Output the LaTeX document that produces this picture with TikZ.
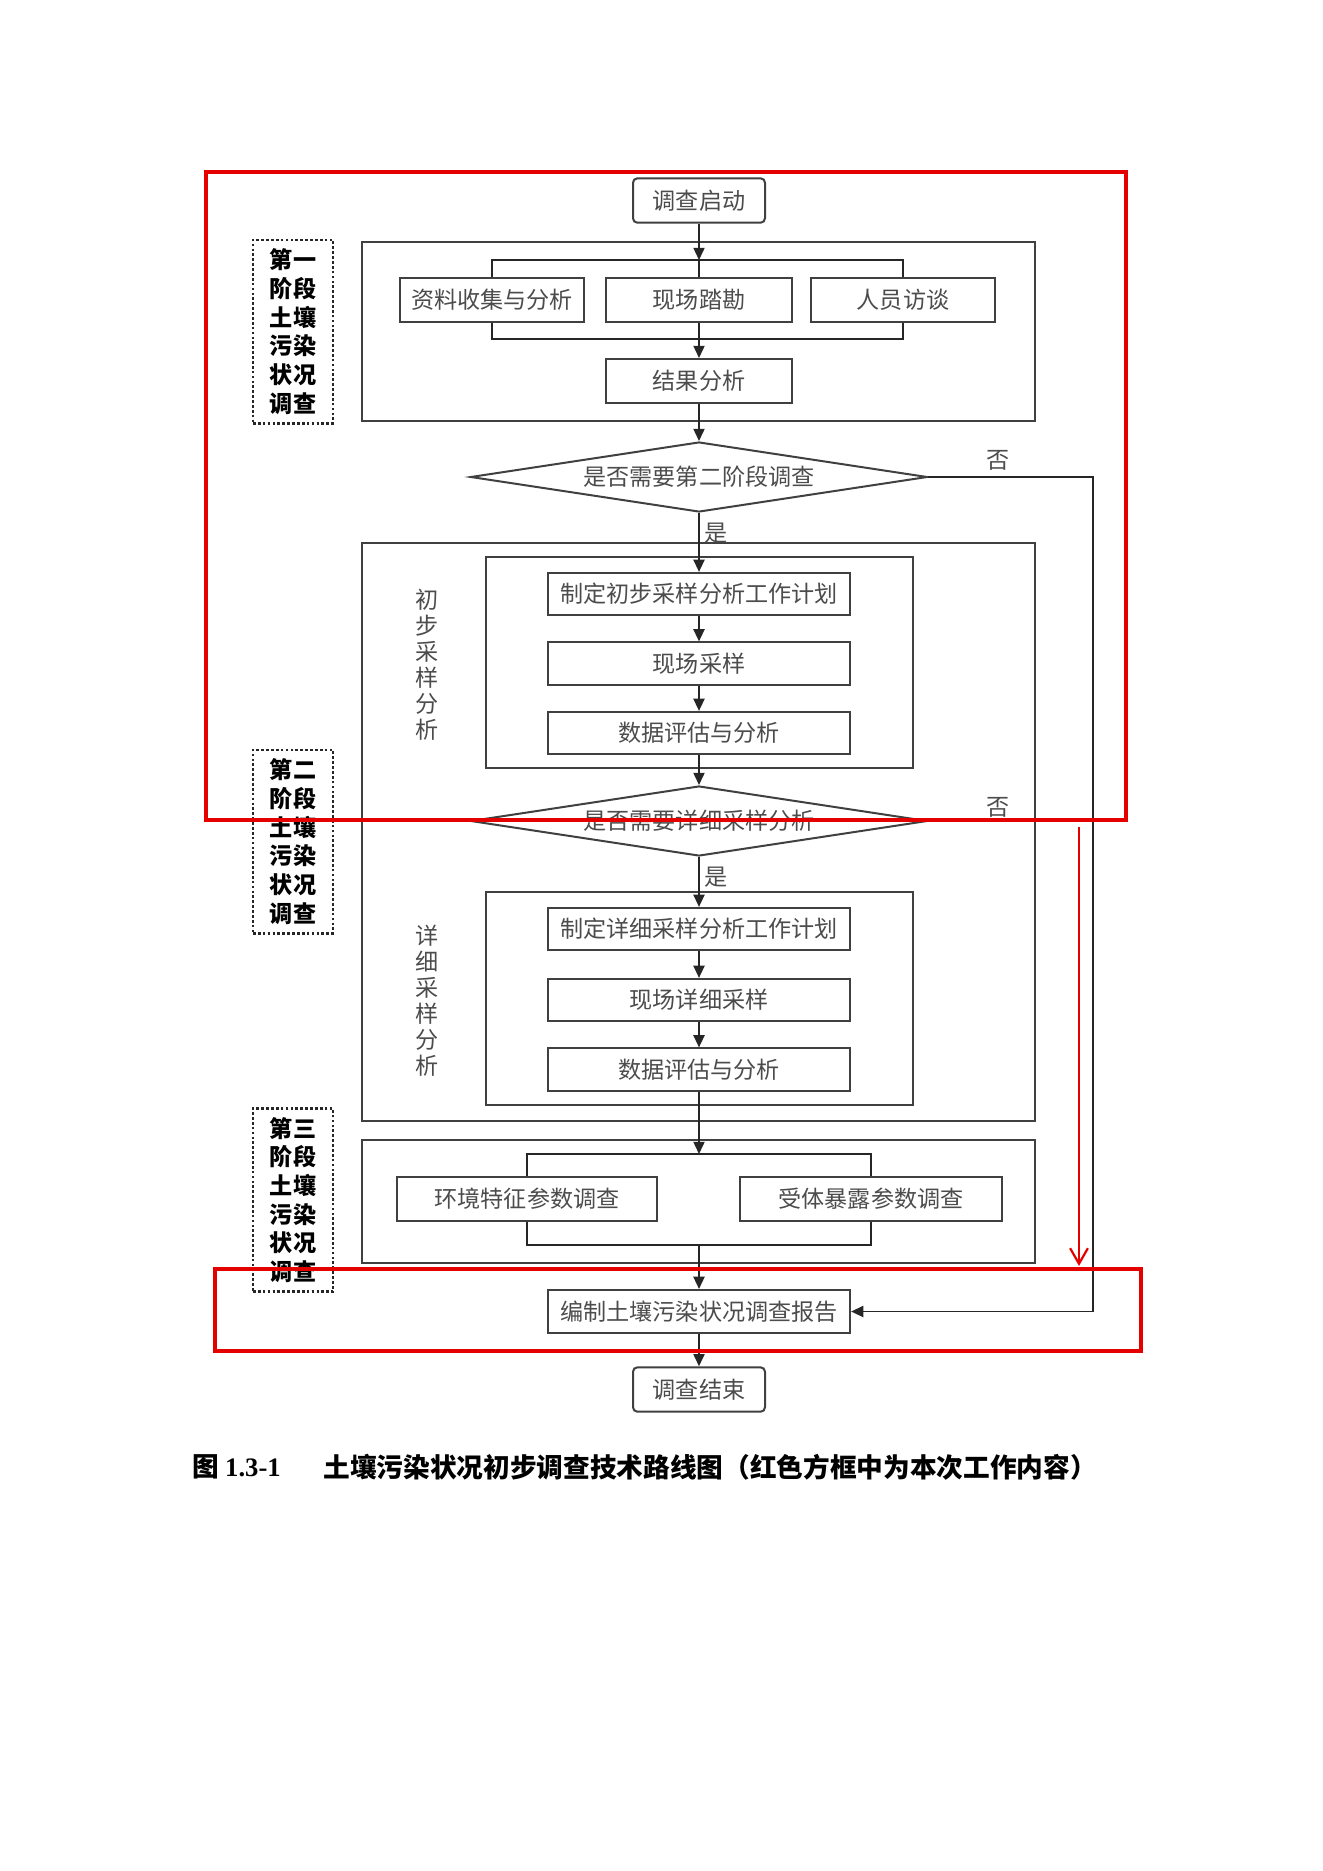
\documentclass[tikz,border=0pt]{standalone}
\usepackage{fontspec}
\newfontfamily\cjk{Noto Sans CJK SC}
\newfontfamily\latinb{Liberation Serif}
\usetikzlibrary{shapes.geometric}
\usetikzlibrary{arrows.meta}

\begin{document}
\begin{tikzpicture}[x=0.45pt, y=-0.45pt,
    box/.style={rectangle, draw=black!75, line width=0.9pt, fill=white, inner sep=0pt,
        minimum width=136pt, minimum height=19pt, text=black!70,
        font=\cjk\fontsize{10.4}{12}\selectfont},
    endbox/.style={box, rounded corners=2pt, minimum width=59.4pt, minimum height=20pt},
    decide/.style={diamond, draw=black!75, line width=0.9pt, aspect=6.6, inner sep=0pt,
        minimum width=205.6pt, minimum height=31.5pt, text=black!70,
        font=\cjk\fontsize{10.4}{12}\selectfont},
    frame/.style={draw=black!75, line width=0.9pt},
    stagebox/.style={draw=black!85, line width=1.2pt, densely dotted, inner sep=0pt,
        minimum width=36pt, minimum height=82.5pt, align=center,
        font=\cjk\bfseries\fontsize{10.4}{12.9}\selectfont},
    vlabel/.style={align=center, text=black!70, font=\cjk\fontsize{10.4}{11.7}\selectfont},
    tag/.style={text=black!70, font=\cjk\fontsize{10.4}{12}\selectfont},
    arr/.style={-{Triangle[length=5.5pt,width=5pt]}, line width=0.8pt, black!85},
    line/.style={line width=0.8pt, black!85},
    redframe/.style={draw=red!90!black, line width=1.4pt}]

    \useasboundingbox (0,0) rectangle (1323,1871);

    % stage frames
    \draw[frame] (362,242) rectangle (1035,421);
    \draw[frame] (362,543) rectangle (1035,1121);
    \draw[frame] (486,557) rectangle (913,768);
    \draw[frame] (486,892) rectangle (913,1105);
    \draw[frame] (362,1140) rectangle (1035,1263);

    \node[stagebox] (s1) at (293,331.5) {第一\\阶段\\土壤\\污染\\状况\\调查};
    \node[stagebox] (s2) at (293,841.5) {第二\\阶段\\土壤\\污染\\状况\\调查};
    \node[stagebox] (s3) at (293,1200) {第三\\阶段\\土壤\\污染\\状况\\调查};

    \node[vlabel] (v1) at (427,665) {初\\步\\采\\样\\分\\析};
    \node[vlabel] (v2) at (427,1001) {详\\细\\采\\样\\分\\析};

    % first stage
    \node[endbox] (start) at (699,200.5) {调查启动};
    \node[box, minimum width=83.2pt, minimum height=19.8pt] (zl) at (492,299.5) {资料收集与分析};
    \node[box, minimum width=83.6pt, minimum height=19.8pt] (xc) at (699,299.5) {现场踏勘};
    \node[box, minimum width=83.2pt, minimum height=19.8pt] (rf) at (903,299.5) {人员访谈};
    \node[box, minimum width=83.6pt, minimum height=19.8pt] (jg) at (699,381) {结果分析};
    \coordinate (b1t) at (699,260);
    \coordinate (b1b) at (699,339);

    \node[decide] (d1) at (699,477) {是否需要第二阶段调查};

    % second stage
    \node[box] (zd1) at (699,594) {制定初步采样分析工作计划};
    \node[box] (cy1) at (699,663.5) {现场采样};
    \node[box] (pg1) at (699,733) {数据评估与分析};

    \node[decide] (d2) at (699,821) {是否需要详细采样分析};

    \node[box] (zd2) at (699,929) {制定详细采样分析工作计划};
    \node[box] (cy2) at (699,1000) {现场详细采样};
    \node[box] (pg2) at (699,1069.5) {数据评估与分析};

    % third stage
    \node[box, minimum width=116.9pt, minimum height=19.8pt] (hj) at (527,1199) {环境特征参数调查};
    \node[box, minimum width=117.8pt, minimum height=19.8pt] (st) at (871,1199) {受体暴露参数调查};
    \coordinate (b3t) at (699,1154);
    \coordinate (b3b) at (699,1245);

    \node[box, minimum height=19.4pt] (bg) at (699,1311.5) {编制土壤污染状况调查报告};
    \node[endbox] (js) at (699,1389.5) {调查结束};

    % connectors
    \draw[arr] (start.south) -- (b1t);
    \draw[line] (zl.north) -- (zl.north |- b1t) -- (rf.north |- b1t) -- (rf.north);
    \draw[line] (b1t) -- (xc.north);
    \draw[line] (zl.south) -- (zl.south |- b1b) -- (rf.south |- b1b) -- (rf.south);
    \draw[line] (xc.south) -- (b1b);
    \draw[arr] (b1b) -- (jg.north);
    \draw[arr] (jg.south) -- (d1.north);
    \draw[arr] (d1.south) -- (zd1.north);
    \draw[arr] (zd1.south) -- (cy1.north);
    \draw[arr] (cy1.south) -- (pg1.north);
    \draw[arr] (pg1.south) -- (d2.north);
    \draw[arr] (d2.south) -- (zd2.north);
    \draw[arr] (zd2.south) -- (cy2.north);
    \draw[arr] (cy2.south) -- (pg2.north);
    \draw[arr] (pg2.south) -- (b3t);
    \draw[line] (hj.north) -- (hj.north |- b3t) -- (st.north |- b3t) -- (st.north);
    \draw[line] (hj.south) -- (hj.south |- b3b) -- (st.south |- b3b) -- (st.south);
    \draw[arr] (b3b) -- (bg.north);
    \draw[arr] (bg.south) -- (js.north);

    \coordinate (rx) at (1093,477);
    \draw[arr] (d1.east) -- (rx) |- (bg.east);
    \draw[line] (d2.east) -- (d2.east -| rx);

    \node[tag] (no1) at (998,460) {否};
    \node[tag] (no2) at (998,807) {否};
    \node[tag] (yes1) at (716,533) {是};
    \node[tag] (yes2) at (716,877) {是};

    % red marks
    \draw[redframe] (206,172) rectangle (1126,820);
    \draw[redframe] (215,1269) rectangle (1141,1351);
    \coordinate (rt) at (1079,827);
    \coordinate (rb) at (1079,1266);
    \draw[redframe, line width=1pt, -{Straight Barb[length=7pt,width=8pt]}] (rt) -- (rb);

    % caption
    \node[anchor=west, inner sep=0pt, font=\cjk\bfseries\fontsize{12}{14}\selectfont] (capnum)
        at (192,1467) {图 {\latinb\bfseries 1.3-1}};
    \node[anchor=west, inner sep=0pt, font=\cjk\bfseries\fontsize{12}{14}\selectfont] (captext)
        at (323,1467) {土壤污染状况初步调查技术路线图（红色方框中为本次工作内容）};
\end{tikzpicture}
\end{document}
